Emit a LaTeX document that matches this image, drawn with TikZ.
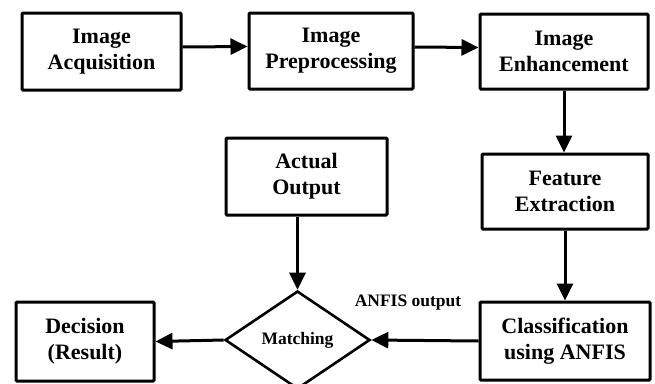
\documentclass[tikz,border=0pt]{standalone}
\usepackage{fontspec}
\setmainfont{Liberation Serif}
\usetikzlibrary{arrows.meta,shapes.geometric}

\tikzset{
  stagebox/.style={draw, line width=3pt, rounded corners=1pt, inner sep=0pt,
    align=center, font=\fontsize{22}{26}\selectfont\bfseries},
  decide/.style={draw, diamond, line width=2.6pt, inner sep=0pt,
    minimum width=145pt, minimum height=98pt,
    font=\fontsize{17.5}{20}\selectfont\bfseries},
  flow/.style={line width=3pt, -{Triangle[length=17pt,width=16pt]}},
  tag/.style={inner sep=0pt, font=\fontsize{17.5}{20}\selectfont\bfseries}
}

\begin{document}
\begin{tikzpicture}[x=1pt,y=-1pt]
  \useasboundingbox (0,0) rectangle (655,383);
  \clip (0,0) rectangle (655,383);

  % top row of processing stages
  \node[stagebox, minimum width=159pt, minimum height=77pt] (acq) at (101.5,51.5) {Image\\Acquisition};
  \node[stagebox, minimum width=164pt, minimum height=76pt] (pre) at (331,51) {Image\\Preprocessing};
  \node[stagebox, minimum width=168pt, minimum height=75pt] (enh) at (564,51.5) {Image\\Enhancement};

  % right column
  \node[stagebox, minimum width=166pt, minimum height=75pt] (feat) at (565,191.5) {Feature\\Extraction};
  \node[stagebox, minimum width=170pt, minimum height=78pt] (cls) at (565,341) {Classification\\using ANFIS};

  % reference output and decision
  \node[stagebox, minimum width=161pt, minimum height=77pt] (act) at (306.5,176.5) {Actual\\Output};
  \node[decide] (match) at (297.5,340) {Matching};
  \node[stagebox, minimum width=138pt, minimum height=79pt] (dec) at (85,341.5) {Decision\\(Result)};

  \node[tag] (lbl) at (408,303) {ANFIS output};

  % connectors
  \draw[flow] ([yshift=4.5pt]acq.east) -- ([yshift=4.5pt]pre.west);
  \draw[flow] ([yshift=4pt]pre.east) -- ([yshift=4pt]enh.west);
  \draw[flow] (enh.south) -- (enh.south |- feat.north);
  \draw[flow] (feat.south) -- (feat.south |- cls.north);
  \draw[flow] (cls.west) -- (match.east);
  \draw[flow] (match.west) -- (dec.east);
  \draw[flow] (match.north |- act.south) -- (match.north);
\end{tikzpicture}
\end{document}
